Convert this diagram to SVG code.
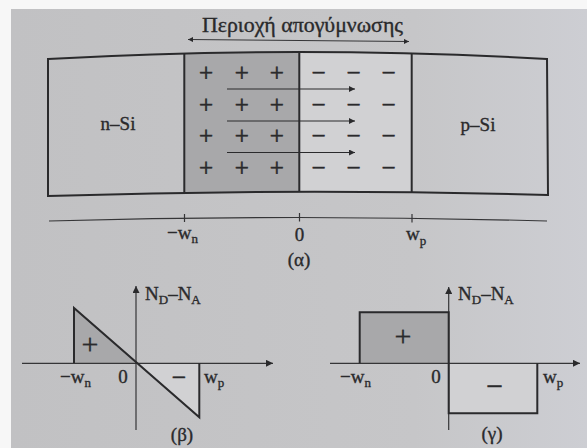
<svg xmlns="http://www.w3.org/2000/svg" width="587" height="448" viewBox="0 0 587 448">
<style>
  text { font-family: "Liberation Serif", "Times New Roman", serif; fill: #2a2a2c; stroke: #2a2a2c; stroke-width: 0.35px; }
  .lbl { font-size: 19px; }
  .sub { font-size: 13px; }
  .sign { font-size: 25px; text-anchor: middle; stroke-width: 0.6px; }
  .thick { stroke: #2a2a2c; stroke-width: 2; fill: none; }
  .thin { stroke: #353537; stroke-width: 1.2; fill: none; }
  .dark { fill: #a8a8aa; }
  .light { fill: #d1d1d3; }
</style>
<defs>
  <linearGradient id="pageGrad" x1="0" y1="0" x2="1" y2="0">
    <stop offset="0" stop-color="#c1c1c3"/>
    <stop offset="0.7" stop-color="#c6c6c8"/>
    <stop offset="1" stop-color="#cdced3"/>
  </linearGradient>
  <clipPath id="body">
    <path d="M48,59 Q298,45 547,59 L548,195 Q298,188 48,196 Z"/>
  </clipPath>
  <marker id="ah" viewBox="0 0 10 10" refX="10" refY="5" markerWidth="7" markerHeight="5" markerUnits="userSpaceOnUse" orient="auto-start-reverse">
    <path d="M0,0 L10,5 L0,10 z" fill="#2a2a2c"/>
  </marker>
  <marker id="ahField" viewBox="0 0 10 10" refX="10" refY="5" markerWidth="8" markerHeight="6" markerUnits="userSpaceOnUse" orient="auto">
    <path d="M0,0 L10,5 L0,10 z" fill="#2a2a2c"/>
  </marker>
  <marker id="ahAxis" viewBox="0 0 10 10" refX="10" refY="5" markerWidth="10" markerHeight="7" markerUnits="userSpaceOnUse" orient="auto">
    <path d="M0,0 L10,5 L0,10 z" fill="#2a2a2c"/>
  </marker>
</defs>

<g id="page">
  <rect x="0" y="0" width="587" height="448" fill="#f7f7f7"/>
  <rect x="11" y="9" width="576" height="439" fill="url(#pageGrad)"/>
</g>

<g id="title">
  <text x="202" y="32" font-size="21" textLength="201" lengthAdjust="spacingAndGlyphs">Περιοχή απογύμνωσης</text>
</g>

<g id="junction" clip-path="url(#body)">
  <g id="region-depl-n"><rect class="dark" x="184.3" y="40" width="115" height="170"/></g>
  <g id="region-depl-p"><rect class="light" x="299.3" y="40" width="112.4" height="170"/></g>
  <line class="thick" x1="184.3" y1="40" x2="184.3" y2="210"/>
  <line class="thick" x1="299.3" y1="40" x2="299.3" y2="210"/>
  <line class="thick" x1="411.7" y1="40" x2="411.7" y2="210"/>
</g>
<path class="thick" d="M48,59 Q298,45 547,59 L548,195 Q298,188 48,196 Z"/>

<g id="region-n"><text class="lbl" x="118" y="130" font-size="20" text-anchor="middle">n–Si</text></g>
<g id="region-p"><text class="lbl" x="478" y="131" font-size="20" text-anchor="middle">p–Si</text></g>

<g id="charges">
  <text class="sign" x="206" y="80.5">+</text><text class="sign" x="241.7" y="80.5">+</text><text class="sign" x="276.7" y="80.5">+</text>
  <text class="sign" x="206" y="112.5">+</text><text class="sign" x="241.7" y="112.5">+</text><text class="sign" x="276.7" y="112.5">+</text>
  <text class="sign" x="206" y="144">+</text><text class="sign" x="241.7" y="144">+</text><text class="sign" x="276.7" y="144">+</text>
  <text class="sign" x="206" y="176">+</text><text class="sign" x="241.7" y="176">+</text><text class="sign" x="276.7" y="176">+</text>
  <text class="sign" x="318.5" y="80.5">−</text><text class="sign" x="353.5" y="80.5">−</text><text class="sign" x="388.5" y="80.5">−</text>
  <text class="sign" x="318.5" y="112.5">−</text><text class="sign" x="353.5" y="112.5">−</text><text class="sign" x="388.5" y="112.5">−</text>
  <text class="sign" x="318.5" y="144">−</text><text class="sign" x="353.5" y="144">−</text><text class="sign" x="388.5" y="144">−</text>
  <text class="sign" x="318.5" y="176">−</text><text class="sign" x="353.5" y="176">−</text><text class="sign" x="388.5" y="176">−</text>
</g>

<g id="connectors">
  <line x1="188" y1="39.5" x2="409" y2="41.5" stroke="#353537" stroke-width="1" marker-start="url(#ah)" marker-end="url(#ah)"/>
  <line x1="227" y1="89" x2="355" y2="89" stroke="#2a2a2c" stroke-width="1.2" marker-end="url(#ahField)"/>
  <line x1="227" y1="121" x2="355" y2="121" stroke="#2a2a2c" stroke-width="1.2" marker-end="url(#ahField)"/>
  <line x1="227" y1="152.5" x2="355" y2="152.5" stroke="#2a2a2c" stroke-width="1.2" marker-end="url(#ahField)"/>
</g>

<g id="axis-a">
  <path class="thin" d="M49,221 Q298,214 547,221"/>
  <line class="thin" x1="184.5" y1="214" x2="184.5" y2="222"/>
  <line class="thin" x1="299.5" y1="213" x2="299.5" y2="221.5"/>
  <line class="thin" x1="412" y1="214" x2="412" y2="222.5"/>
  <text class="lbl" x="167" y="239">−w<tspan class="sub" dy="4">n</tspan></text>
  <text class="lbl" x="299.5" y="241" text-anchor="middle">0</text>
  <text class="lbl" x="406" y="240">w<tspan class="sub" dy="5">p</tspan></text>
  <text class="lbl" x="299" y="266" font-size="20" text-anchor="middle">(α)</text>
</g>

<g id="plot-b">
  <path class="dark" d="M74,308 L136,363 L74,363 Z"/>
  <path class="light" d="M136,363 L199.3,417.3 L199.3,363 Z"/>
  <line class="thin" x1="22" y1="363.3" x2="273" y2="363.3" marker-end="url(#ahAxis)"/>
  <line class="thin" x1="136" y1="430" x2="136" y2="286" marker-end="url(#ahAxis)"/>
  <path class="thick" d="M74,363 L74,308 L199.3,417.3 L199.3,363"/>
  <text x="90" y="354" font-size="30" text-anchor="middle" stroke-width="0.7">+</text>
  <text x="179" y="385.5" font-size="26" text-anchor="middle" stroke-width="0.7">−</text>
  <text class="lbl" x="60" y="383">−w<tspan class="sub" dy="4">n</tspan></text>
  <text class="lbl" x="123" y="383" text-anchor="middle">0</text>
  <text class="lbl" x="204" y="383">w<tspan class="sub" dy="4">p</tspan></text>
  <text class="lbl" x="182" y="441" text-anchor="middle">(β)</text>
  <text class="lbl" x="145" y="300">N<tspan class="sub" dy="4">D</tspan><tspan dy="-4">–N</tspan><tspan class="sub" dy="4">A</tspan></text>
</g>

<g id="plot-c">
  <rect class="dark" x="359.7" y="312.3" width="89" height="51"/>
  <rect class="light" x="448.7" y="363.3" width="88.6" height="50"/>
  <line class="thin" x1="330" y1="363.3" x2="580" y2="363.3" marker-end="url(#ahAxis)"/>
  <line class="thin" x1="448.7" y1="430" x2="448.7" y2="287" marker-end="url(#ahAxis)"/>
  <path class="thick" d="M359.7,363.3 L359.7,312.3 L448.7,312.3 L448.7,413.3 L537.3,413.3 L537.3,363.3"/>
  <text x="403" y="346" font-size="30" text-anchor="middle" stroke-width="0.7">+</text>
  <text x="494.7" y="396" font-size="30" text-anchor="middle" stroke-width="0.7">−</text>
  <text class="lbl" x="340" y="383">−w<tspan class="sub" dy="4">n</tspan></text>
  <text class="lbl" x="436" y="383" text-anchor="middle">0</text>
  <text class="lbl" x="543" y="383">w<tspan class="sub" dy="4">p</tspan></text>
  <text class="lbl" x="492" y="440" text-anchor="middle">(γ)</text>
  <text class="lbl" x="458" y="300">N<tspan class="sub" dy="4">D</tspan><tspan dy="-4">–N</tspan><tspan class="sub" dy="4">A</tspan></text>
</g>
</svg>
